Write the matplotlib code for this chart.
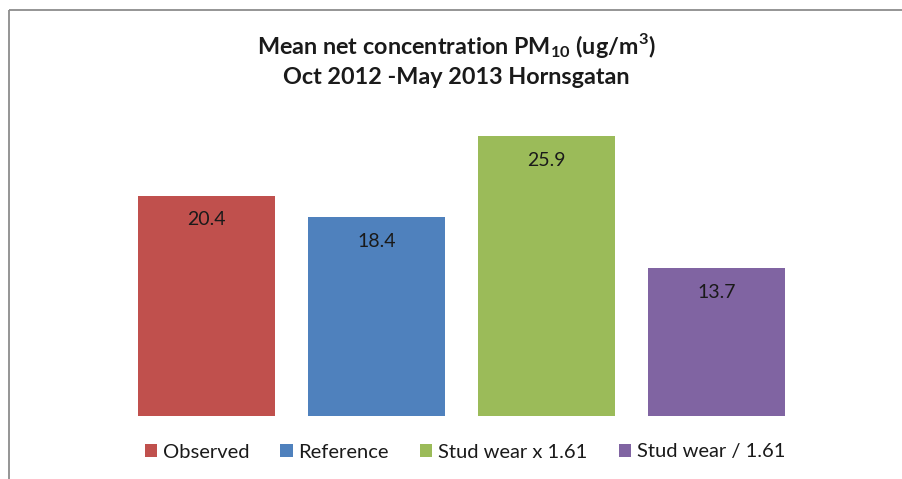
import matplotlib.pyplot as plt
from matplotlib.lines import Line2D

series = ["Observed", "Reference", "Stud wear x 1.61", "Stud wear / 1.61"]
values = [20.4, 18.4, 25.9, 13.7]
colors = ["#C0504D", "#4F81BD", "#9BBB59", "#8064A2"]

plt.rcParams['font.family'] = ['Lato', 'DejaVu Sans']
plt.rcParams['mathtext.fontset'] = 'custom'
plt.rcParams['mathtext.bf'] = 'Lato:bold'
plt.rcParams['mathtext.rm'] = 'Lato'

fig = plt.figure(figsize=(9.03, 4.79), dpi=100, facecolor="white", edgecolor="white", linewidth=0)
ax = fig.add_axes([121.5 / 903, 63.5 / 479, 680 / 903, 323.5 / 479])

for i, (name, v, c) in enumerate(zip(series, values, colors)):
    ax.bar(i, v, width=0.806, color=c, label=name)
    ax.annotate(f"{v:.1f}", (i, v), xytext=(0, -17.5), textcoords="offset points",
                ha="center", va="center", fontsize=14, color="#1a1a1a")

ax.set_xlim(-0.5, 3.5)
ax.set_ylim(0, 30)
ax.axis("off")

fig.text(456 / 903, 1 - 46 / 479, r"Mean net concentration PM$_{\mathbf{10}}$ (ug/m$^{\mathbf{3}}$)",
         ha="center", va="center", fontsize=16.8, fontweight="bold", color="#1a1a1a")
fig.text(456 / 903, 1 - 78 / 479, "Oct 2012 -May 2013 Hornsgatan",
         ha="center", va="center", fontsize=16.8, fontweight="bold", color="#1a1a1a")

fig.legend(loc="center", bbox_to_anchor=(465 / 903, 27 / 479), ncol=4, frameon=False,
           fontsize=14.5, handlelength=0.6, handleheight=0.6, handletextpad=0.3,
           columnspacing=1.55, labelcolor="#1a1a1a")

# chart border: only top and left edges are inside the image
fig.add_artist(Line2D([8.5 / 903, 1.05], [1 - 9.5 / 479, 1 - 9.5 / 479], transform=fig.transFigure,
                      color="#8c8c8c", linewidth=1.3, solid_capstyle="butt"))
fig.add_artist(Line2D([8.5 / 903, 8.5 / 903], [-0.05, 1 - 9.5 / 479], transform=fig.transFigure,
                      color="#8c8c8c", linewidth=1.3, solid_capstyle="butt"))

fig.savefig("out.png", dpi=100)
